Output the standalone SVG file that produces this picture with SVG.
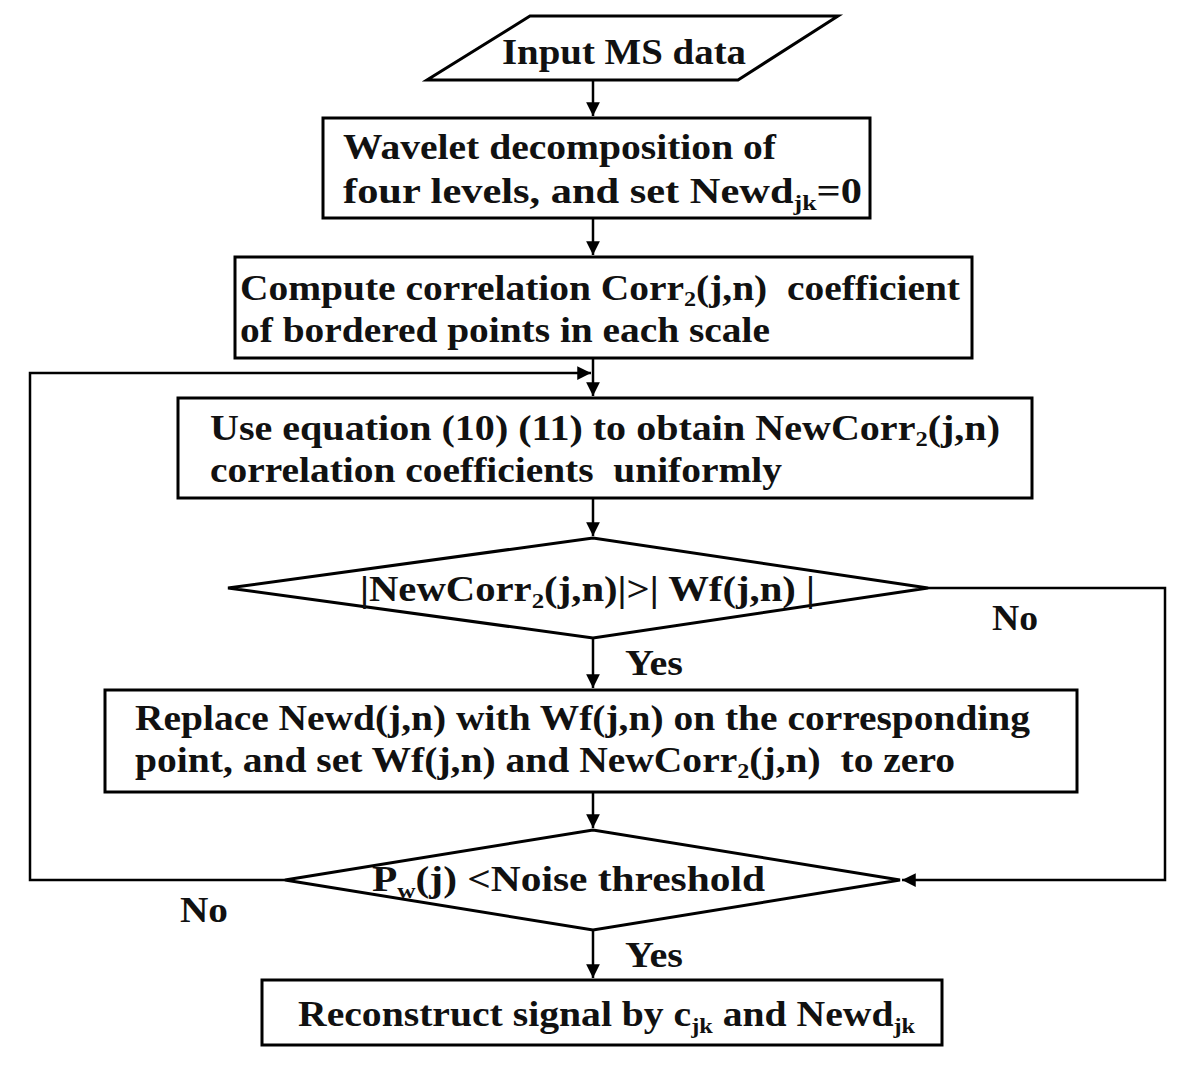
<svg xmlns="http://www.w3.org/2000/svg" width="1200" height="1071" viewBox="0 0 1200 1071">
<style>
.n{fill:#fff;stroke:#000;stroke-width:3}
.t{font-family:"Liberation Serif","Times New Roman",serif;font-weight:bold;font-size:36px;fill:#111;white-space:pre}
.s{font-size:22px}
.c{fill:none;stroke:#000;stroke-width:2.5}
</style>
<defs>
<marker id="ah" viewBox="0 0 10 10" refX="10" refY="5" markerWidth="5.5" markerHeight="5.5" orient="auto" markerUnits="strokeWidth">
<path d="M0,0 L10,5 L0,10 z" fill="#000"/>
</marker>
</defs>
<rect width="1200" height="1071" fill="#fff"/>
<g id="connectors">
<path class="c" d="M593,80 V116" marker-end="url(#ah)"/>
<path class="c" d="M593,218 V255" marker-end="url(#ah)"/>
<path class="c" d="M593,358 V396" marker-end="url(#ah)"/>
<path class="c" d="M593,498 V536" marker-end="url(#ah)"/>
<path class="c" d="M593,638 V688" marker-end="url(#ah)"/>
<path class="c" d="M593,792 V828" marker-end="url(#ah)"/>
<path class="c" d="M593,930 V978" marker-end="url(#ah)"/>
<path class="c" d="M285,880 H30 V373 H591" marker-end="url(#ah)"/>
<path class="c" d="M928,588 H1165 V880 H902" marker-end="url(#ah)"/>
<text class="t" x="992" y="630" textLength="46" lengthAdjust="spacingAndGlyphs">No</text>
<text class="t" x="625" y="675" textLength="58" lengthAdjust="spacingAndGlyphs">Yes</text>
<text class="t" x="180" y="922" textLength="48" lengthAdjust="spacingAndGlyphs">No</text>
<text class="t" x="625" y="967" textLength="58" lengthAdjust="spacingAndGlyphs">Yes</text>
</g>
<g id="input">
<polygon class="n" points="530,16 838,16 738,80 427,80"/>
<text class="t" x="502" y="64" textLength="244" lengthAdjust="spacingAndGlyphs">Input MS data</text>
</g>
<g id="wavelet">
<rect class="n" x="323" y="118" width="547" height="100"/>
<text class="t" x="343" y="159" textLength="433" lengthAdjust="spacingAndGlyphs">Wavelet decomposition of</text>
<text class="t" x="343" y="203" textLength="519" lengthAdjust="spacingAndGlyphs">four levels, and set Newd<tspan class="s" dy="7">jk</tspan><tspan dy="-7">=0</tspan></text>
</g>
<g id="compute">
<rect class="n" x="235" y="257" width="737" height="101"/>
<text class="t" x="240" y="300" textLength="720" lengthAdjust="spacingAndGlyphs">Compute correlation Corr<tspan class="s" dy="6">2</tspan><tspan dy="-6">(j,n)  coefficient</tspan></text>
<text class="t" x="240" y="342" textLength="530" lengthAdjust="spacingAndGlyphs">of bordered points in each scale</text>
</g>
<g id="equation">
<rect class="n" x="178" y="398" width="854" height="100"/>
<text class="t" x="210" y="440" textLength="790" lengthAdjust="spacingAndGlyphs">Use equation (10) (11) to obtain NewCorr<tspan class="s" dy="6">2</tspan><tspan dy="-6">(j,n)</tspan></text>
<text class="t" x="210" y="482" textLength="572" lengthAdjust="spacingAndGlyphs">correlation coefficients  uniformly</text>
</g>
<g id="decision1">
<polygon class="n" points="228,588 593,538 928,588 593,638"/>
<text class="t" x="360" y="601" textLength="455" lengthAdjust="spacingAndGlyphs">|NewCorr<tspan class="s" dy="7">2</tspan><tspan dy="-7">(j,n)|&gt;| Wf(j,n) |</tspan></text>
</g>
<g id="replace">
<rect class="n" x="105" y="690" width="972" height="102"/>
<text class="t" x="135" y="730" textLength="895" lengthAdjust="spacingAndGlyphs">Replace Newd(j,n) with Wf(j,n) on the corresponding</text>
<text class="t" x="135" y="772" textLength="820" lengthAdjust="spacingAndGlyphs">point, and set Wf(j,n) and NewCorr<tspan class="s" dy="6">2</tspan><tspan dy="-6">(j,n)  to zero</tspan></text>
</g>
<g id="decision2">
<polygon class="n" points="285,880 593,830 900,880 593,930"/>
<text class="t" x="372" y="891" textLength="393" lengthAdjust="spacingAndGlyphs">P<tspan class="s" dy="7">w</tspan><tspan dy="-7">(j) &lt;Noise threshold</tspan></text>
</g>
<g id="reconstruct">
<rect class="n" x="262" y="980" width="680" height="65"/>
<text class="t" x="298" y="1026" textLength="617" lengthAdjust="spacingAndGlyphs">Reconstruct signal by c<tspan class="s" dy="7">jk</tspan><tspan dy="-7"> and Newd</tspan><tspan class="s" dy="7">jk</tspan></text>
</g>
</svg>
